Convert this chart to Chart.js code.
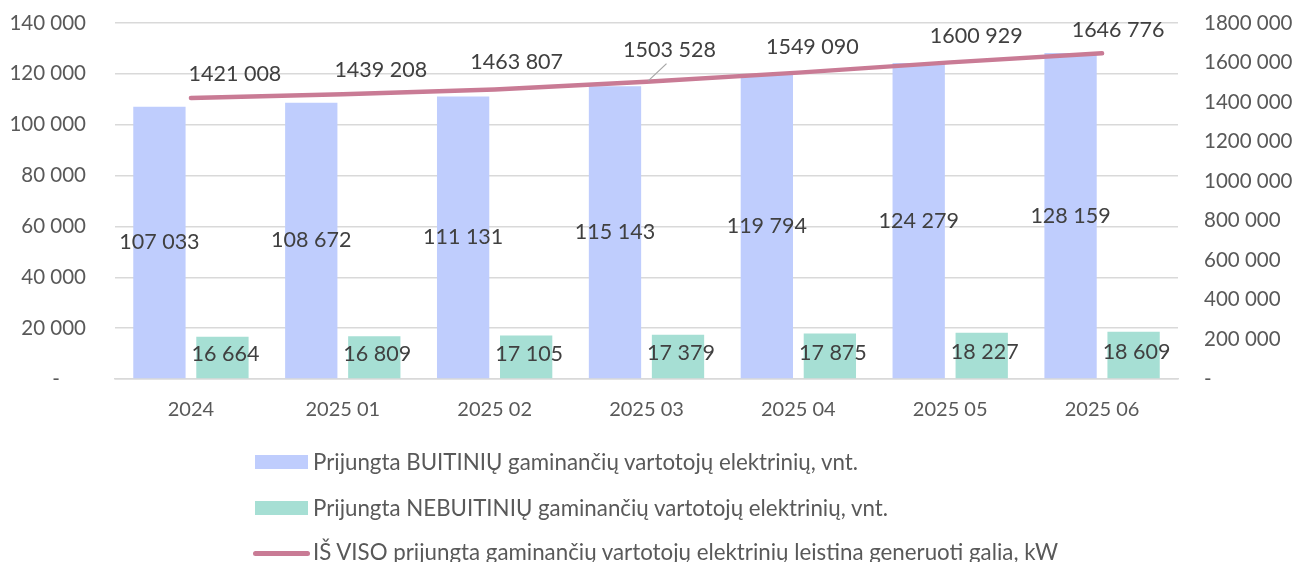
<!DOCTYPE html>
<html>
<head>
<meta charset="utf-8">
<script src="https://cdn.jsdelivr.net/npm/chart.js@4"></script>
<style>
  html, body { margin: 0; padding: 0; background: #fff; }
  #wrap { position: relative; width: 1312px; height: 562px; overflow: hidden; }
  canvas { position: absolute; left: 0; top: 0; }
  #legend { position: absolute; left: 255px; top: 446px; font-family: Lato, "Open Sans", sans-serif; font-size: 22.3px; color: #595959; }
  .li { position: absolute; left: 0; white-space: nowrap; height: 26px; line-height: 26px; }
  .sw { position: absolute; left: 0; }
  .tx { position: absolute; left: 58px; top: 0; }
</style>
</head>
<body>
<div id="wrap">
  <canvas id="c" width="1312" height="562"></canvas>
  <div id="legend"></div>
</div>
<script>
const categories = ['2024', '2025 01', '2025 02', '2025 03', '2025 04', '2025 05', '2025 06'];
const householdPlants = [107033, 108672, 111131, 115143, 119794, 124279, 128159];
const nonHouseholdPlants = [16664, 16809, 17105, 17379, 17875, 18227, 18609];
const totalPowerKw = [1421008, 1439208, 1463807, 1503528, 1549090, 1600929, 1646776];
const leftTicks = [0, 20000, 40000, 60000, 80000, 100000, 120000, 140000];
const rightTicks = [0, 200000, 400000, 600000, 800000, 1000000, 1200000, 1400000, 1600000, 1800000];
const seriesNames = [
  'Prijungta BUITINIŲ gaminančių vartotojų elektrinių, vnt.',
  'Prijungta NEBUITINIŲ gaminančių vartotojų elektrinių, vnt.',
  'IŠ VISO prijungta gaminančių vartotojų elektrinių leistina generuoti galia, kW'
];

// styling
const BLUE = '#bfcdfd', GREEN = '#a6dfd4', PINK = '#c97b95';
const TEXT = '#404040', TICK = '#595959';
const FONT = 'Lato, "Open Sans", sans-serif';
// label offsets (px) for line labels, relative to the point
const lineLabelOffsets = [[44, -24], [38, -24], [22, -27], [23, -32], [14, -26], [26, -26], [16, -23]];
const leaderIdx = 3;

function fmt(v) {
  if (v === 0) return '-';
  const hi = Math.floor(v / 1000), lo = v % 1000;
  return hi + ' ' + String(lo).padStart(3, '0');
}

const labelsPlugin = {
  id: 'labelsPlugin',
  afterDatasetsDraw(chart) {
    const ctx = chart.ctx;
    ctx.save();
    ctx.fillStyle = TEXT;
    ctx.font = '21.5px ' + FONT;
    ctx.textAlign = 'center';
    ctx.textBaseline = 'middle';
    [0, 1].forEach(di => {
      const meta = chart.getDatasetMeta(di);
      meta.data.forEach((bar, i) => {
        const v = chart.data.datasets[di].data[i];
        const y = (bar.y + bar.base) / 2 + (di === 1 ? -3 : 0);
        const x = bar.x + (di === 1 ? 3 : 0);
        ctx.fillText(fmt(v), x, y);
      });
    });
    const lm = chart.getDatasetMeta(2);
    lm.data.forEach((pt, i) => {
      const v = chart.data.datasets[2].data[i];
      const [dx, dy] = lineLabelOffsets[i];
      if (i === leaderIdx) {
        ctx.strokeStyle = '#a6a6a6';
        ctx.lineWidth = 1.2;
        ctx.beginPath();
        ctx.moveTo(pt.x + 2, pt.y - 1);
        ctx.lineTo(pt.x + dx - 3, pt.y + dy + 14);
        ctx.stroke();
      }
      ctx.fillStyle = TEXT;
      ctx.fillText(fmt(v), pt.x + dx, pt.y + dy);
    });
    ctx.restore();
  }
};

function vFit(width) {
  return function (s) { s.width = width; s.paddingTop = 0; s.paddingBottom = 0; };
}

const chart = new Chart(document.getElementById('c'), {
  data: {
    labels: categories,
    datasets: [
      { type: 'bar', label: seriesNames[0], data: householdPlants, backgroundColor: BLUE, yAxisID: 'y', order: 2,
        categoryPercentage: 0.83, barPercentage: 0.83 },
      { type: 'bar', label: seriesNames[1], data: nonHouseholdPlants, backgroundColor: GREEN, yAxisID: 'y', order: 2,
        categoryPercentage: 0.83, barPercentage: 0.83 },
      { type: 'line', label: seriesNames[2], data: totalPowerKw, borderColor: PINK, borderWidth: 4.5,
        pointRadius: 0, borderCapStyle: 'round', yAxisID: 'y2', order: 1, tension: 0 }
    ]
  },
  options: {
    responsive: false,
    animation: false,
    layout: { padding: { top: 23, left: 0, right: 0, bottom: 0 } },
    plugins: { legend: { display: false }, tooltip: { enabled: false } },
    scales: {
      x: {
        grid: { display: false, drawTicks: false },
        border: { color: '#d9d9d9', width: 1.5 },
        ticks: { color: TICK, font: { family: FONT, size: 20 }, padding: 19, maxRotation: 0 },
        afterFit(s) { s.height = 183; s.paddingLeft = 0; s.paddingRight = 0; }
      },
      y: {
        position: 'left', min: 0, max: 140000,
        afterBuildTicks(s) { s.ticks = leftTicks.map(v => ({ value: v })); },
        grid: { color: '#d9d9d9', lineWidth: 1.5, drawTicks: false },
        border: { display: false },
        ticks: { color: TICK, font: { family: FONT, size: 20.5 }, padding: 29,
          callback: v => v === 0 ? '-     ' : fmt(v) },
        afterFit: vFit(115)
      },
      y2: {
        position: 'right', min: 0, max: 1800000,
        afterBuildTicks(s) { s.ticks = rightTicks.map(v => ({ value: v })); },
        grid: { display: false, drawTicks: false },
        border: { display: false },
        ticks: { color: TICK, font: { family: FONT, size: 20.5 }, padding: 26, callback: v => fmt(v) },
        afterFit: vFit(134)
      }
    }
  },
  plugins: [labelsPlugin]
});

// HTML legend
const lg = document.getElementById('legend');
const rowsTop = [3, 49, 93];
seriesNames.forEach((name, i) => {
  const row = document.createElement('div');
  row.className = 'li';
  row.style.top = rowsTop[i] + 'px';
  const sw = document.createElement('div');
  sw.className = 'sw';
  if (i < 2) {
    sw.style.cssText += 'width:53px;height:14px;top:6px;background:' + (i === 0 ? BLUE : GREEN);
  } else {
    sw.style.cssText += 'left:-2px;width:57px;height:5px;top:12px;border-radius:3px;background:' + PINK;
  }
  const tx = document.createElement('div');
  tx.className = 'tx';
  tx.textContent = name;
  row.appendChild(sw); row.appendChild(tx);
  lg.appendChild(row);
});
</script>
</body>
</html>
